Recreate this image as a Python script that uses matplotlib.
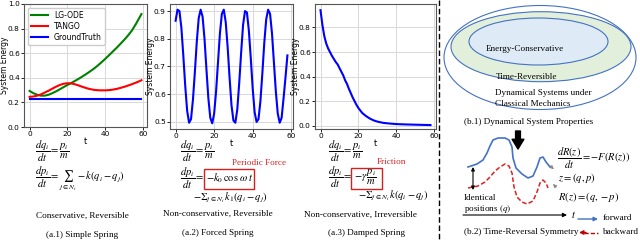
import numpy as np
import matplotlib.pyplot as plt
from matplotlib.patches import Ellipse, Rectangle

plt.rcParams['mathtext.fontset'] = 'stix'

W, H = 640, 242
SERIF = 'Liberation Serif'

# (a.1) simple spring
t_simple = [0, 2, 4, 6, 8, 10, 12, 14, 16, 18, 20, 22, 24, 26, 28, 30,
            32, 34, 36, 38, 40, 42, 44, 46, 48, 50, 52, 54, 56, 58, 59]
lgode = [0.293, 0.275, 0.262, 0.255, 0.255, 0.262, 0.275, 0.290, 0.307, 0.325,
         0.342, 0.358, 0.375, 0.393, 0.412, 0.432, 0.453, 0.475, 0.500, 0.527,
         0.555, 0.585, 0.615, 0.645, 0.677, 0.710, 0.745, 0.785, 0.835, 0.890, 0.918]
tango = [0.245, 0.248, 0.255, 0.265, 0.280, 0.295, 0.312, 0.328, 0.342, 0.352,
         0.356, 0.354, 0.347, 0.337, 0.326, 0.316, 0.308, 0.302, 0.299, 0.298,
         0.298, 0.300, 0.304, 0.310, 0.318, 0.327, 0.337, 0.348, 0.360, 0.373, 0.380]
truth = [0.228] * len(t_simple)

# (a.2) forced spring
t_forced = list(range(59))
forced = [0.865, 0.905, 0.900, 0.840, 0.740, 0.630, 0.540, 0.497, 0.510, 0.580,
          0.680, 0.790, 0.875, 0.905, 0.880, 0.800, 0.690, 0.585, 0.515, 0.495,
          0.530, 0.610, 0.715, 0.820, 0.890, 0.905, 0.860, 0.770, 0.660, 0.560,
          0.505, 0.497, 0.545, 0.640, 0.750, 0.850, 0.900, 0.895, 0.830, 0.730,
          0.620, 0.535, 0.500, 0.510, 0.575, 0.675, 0.785, 0.870, 0.905, 0.890,
          0.820, 0.715, 0.610, 0.530, 0.497, 0.515, 0.585, 0.660, 0.740]

# (a.3) damped spring
t_damped = [0, 1, 2, 3, 4, 5, 6, 7, 8, 9, 10, 11, 12, 13, 14, 15, 16, 17, 18,
            19, 20, 22, 24, 26, 28, 30, 33, 36, 40, 45, 50, 55, 58]
damped = [0.94, 0.82, 0.73, 0.67, 0.63, 0.60, 0.57, 0.545, 0.52, 0.50, 0.47,
          0.44, 0.41, 0.37, 0.34, 0.30, 0.265, 0.23, 0.20, 0.17, 0.145, 0.105,
          0.08, 0.06, 0.045, 0.035, 0.025, 0.02, 0.015, 0.012, 0.01, 0.008, 0.007]

# diagram curves (pixel coords of the right panel)
fwd_x = [468, 477, 483, 487, 490, 493, 498, 505, 509, 512, 513, 516, 522, 528, 533, 537, 540, 543, 546, 550]
fwd_y = [167, 164, 160, 153, 146, 140, 138, 138, 140, 147, 158, 168, 174, 178, 176, 167, 158, 157, 162, 167]
bwd_x = [468, 478, 485, 490, 495, 500, 505, 509, 512, 514, 517, 522, 527, 533, 537, 540, 543, 546, 548]
bwd_y = [188, 186, 182, 177, 171, 167, 164, 166, 173, 187, 197, 202, 204, 201, 192, 183, 180, 183, 188]

fig = plt.figure(figsize=(6.4, 2.42), dpi=100)


def rect(l, t, r, b):
    return [l / W, 1 - b / H, (r - l) / W, (b - t) / H]


ov = fig.add_axes([0, 0, 1, 1])
ov.set_xlim(0, W)
ov.set_ylim(H, 0)
ov.set_axis_off()


def style(ax):
    ax.grid(True, color='#d9d9d9', lw=0.7)
    ax.set_axisbelow(True)
    ax.tick_params(labelsize=5.3, length=2, width=0.6, pad=1)
    for s in ax.spines.values():
        s.set_linewidth(0.8)
        s.set_color('#555555')
    ax.set_xlabel('t', fontsize=6, labelpad=0)
    ax.set_ylabel('System Energy', fontsize=5.5)
    ax.yaxis.set_label_coords(-0.125, 0.5)
    ax.set_xticks([0, 20, 40, 60])


ax1 = fig.add_axes(rect(24, 4, 147, 127))
ax1.plot(t_simple, lgode, color='green', lw=1.5, label='LG-ODE')
ax1.plot(t_simple, tango, color='red', lw=1.5, label='TANGO')
ax1.plot(t_simple, truth, color='blue', lw=1.5, label='GroundTruth')
ax1.set_ylim(0, 1.0)
ax1.set_yticks([0.0, 0.2, 0.4, 0.6, 0.8, 1.0])
style(ax1)
ax1.legend(loc='upper left', fontsize=5.5, labelspacing=0.25, handlelength=2.2,
           borderpad=0.4, framealpha=1)

ax2 = fig.add_axes(rect(170, 4, 293, 129))
ax2.plot(t_forced, forced, color='blue', lw=1.5)
ax2.set_yticks([0.5, 0.6, 0.7, 0.8, 0.9])
style(ax2)

ax3 = fig.add_axes(rect(315, 4, 436, 129))
ax3.plot(t_damped, damped, color='blue', lw=1.5)
ax3.set_ylim(-0.025, 0.99)
ax3.set_yticks([0.0, 0.2, 0.4, 0.6, 0.8])
style(ax3)

# equations
eq = dict(fontsize=7.6, va='baseline', ha='left')
red = '#d62020'
ov.text(35, 154.5, r'$\dfrac{dq_i}{dt} = \dfrac{p_i}{m}$', **eq)
ov.text(35, 180, r'$\dfrac{dp_i}{dt} = \sum_{j\in N_i} -k(q_i - q_j)$', **eq)

ov.text(180, 154.5, r'$\dfrac{dq_i}{dt} = \dfrac{p_i}{m}$', **eq)
ov.text(180, 181.5, r'$\dfrac{dp_i}{dt} = $', **eq)
ov.text(206, 181.5, r'$-k_0\,\cos\,\omega\, t$', **eq)
ov.add_patch(Rectangle((204, 169), 50, 20, fill=False, ec=red, lw=1))
ov.text(232, 163, 'Periodic Force', color=red, fontsize=6.6, family=SERIF, va='center')
ov.text(193, 200, r'$-\Sigma_{j\in N_i}\, k_1(q_i - q_j)$', **eq)

ov.text(328, 154.5, r'$\dfrac{dq_i}{dt} = \dfrac{p_i}{m}$', **eq)
ov.text(328, 180.5, r'$\dfrac{dp_i}{dt} = $', **eq)
ov.text(354, 180.5, r'$-\gamma\,\dfrac{p_i}{m}$', **eq)
ov.add_patch(Rectangle((351, 168), 31, 21, fill=False, ec=red, lw=1))
ov.text(377, 162, 'Friction', color=red, fontsize=6.6, family=SERIF, va='center')
ov.text(358, 198, r'$-\Sigma_{j\in N_i}\, k(q_i - q_j)$', **eq)

cap = dict(fontsize=6.6, family=SERIF, ha='center', va='center')
txt = dict(fontsize=6.6, family=SERIF, va='center')
ov.text(82, 216, 'Conservative, Reversible', **cap)
ov.text(82, 235, '(a.1) Simple Spring', **cap)
ov.text(218, 214, 'Non-conservative, Reversible', **cap)
ov.text(218, 233, '(a.2) Forced Spring', **cap)
ov.text(360, 215, 'Non-conservative, Irreversible', **cap)
ov.text(367, 233, '(a.3) Damped Spring', **cap)

# separator
ov.plot([439, 439], [0, H], color='k', lw=1, ls=(0, (4, 2)))

# (b.1) nested ellipses
edge = '#4472C4'
ov.add_patch(Ellipse((540, 57.5), 192, 104, fc='white', ec=edge, lw=0.8))
ov.add_patch(Ellipse((541, 46.7), 180, 70, fc='#E2EFDA', ec=edge, lw=0.8))
ov.add_patch(Ellipse((538.5, 41.5), 139, 47, fc='#DEEBF7', ec=edge, lw=0.8))
ov.text(525, 49, 'Energy-Conservative', **cap)
ov.text(527, 77, 'Time-Reversible', **cap)
ov.text(495, 93, 'Dynamical Systems under', **txt)
ov.text(495, 104, 'Classical Mechanics', **txt)
ov.text(464, 122, '(b.1) Dynamical System Properties', **txt)

# (b.2) time reversal
ov.annotate('', xy=(518, 149), xytext=(518, 131),
            arrowprops=dict(arrowstyle='simple,head_length=0.7,head_width=0.85,tail_width=0.35',
                            color='k', shrinkA=0, shrinkB=0))
ov.plot(fwd_x, fwd_y, color=edge, lw=1.2)
ov.plot(bwd_x, bwd_y, color='#e02020', lw=1.1, ls=(0, (3, 1.5)))
ov.annotate('', xy=(556, 171), xytext=(548, 164),
            arrowprops=dict(arrowstyle='-|>', color='#888888', lw=0.7, mutation_scale=5))
ov.annotate('', xy=(551, 182), xytext=(558, 189),
            arrowprops=dict(arrowstyle='-|>', color='#888888', lw=0.7, mutation_scale=5))
ov.annotate('', xy=(473, 167), xytext=(473, 190),
            arrowprops=dict(arrowstyle='<|-|>', color='k', lw=0.8, mutation_scale=5,
                            shrinkA=0, shrinkB=0))
ov.text(464, 198, 'Identical', **txt)
ov.text(464, 209, r'positions $(q)$', **txt)
ov.annotate('', xy=(567, 215), xytext=(463, 215),
            arrowprops=dict(arrowstyle='-|>', color='k', lw=0.8, mutation_scale=6,
                            shrinkA=0, shrinkB=0))
ov.text(571, 215, r'$t$', fontsize=7.5, va='center')

ov.text(557, 161.5, r'$\dfrac{dR(z)}{dt} = -F(R(z))$', fontsize=7.5, va='baseline')
ov.text(558, 181, r'$z = (q, p)$', **eq)
ov.text(558, 200, r'$R(z) = (q, -p)$', **eq)

ov.annotate('', xy=(598, 219), xytext=(578, 219),
            arrowprops=dict(arrowstyle='-|>', color=edge, lw=1, mutation_scale=6,
                            shrinkA=0, shrinkB=0))
ov.text(603, 218, 'forward', **txt)
ov.plot([584, 598], [232.5, 232.5], color='#c00000', lw=1, ls=(0, (3, 1.5)))
ov.annotate('', xy=(579, 232.5), xytext=(586, 232.5),
            arrowprops=dict(arrowstyle='-|>', color='#c00000', lw=1, mutation_scale=6,
                            shrinkA=0, shrinkB=0))
ov.text(603, 232, 'backward', **txt)
ov.text(464, 232, '(b.2) Time-Reversal Symmetry', **txt)

fig.savefig('out.png', dpi=100)
